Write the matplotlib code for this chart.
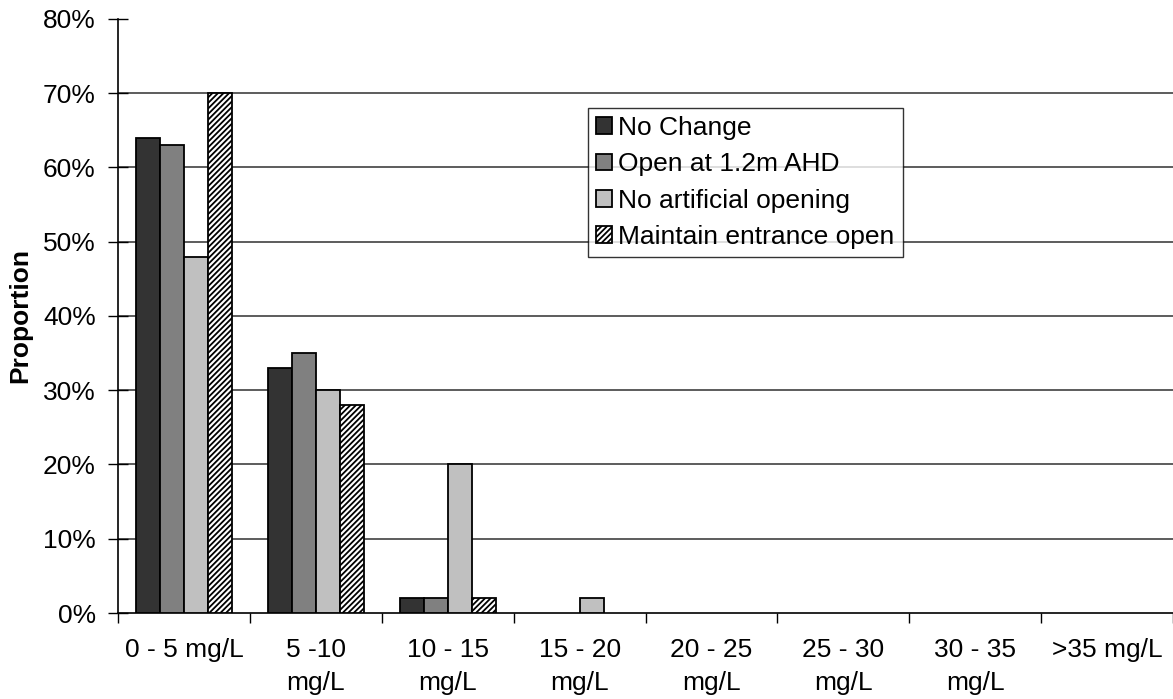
import numpy as np
import matplotlib
matplotlib.use('Agg')
import matplotlib.pyplot as plt
from matplotlib.ticker import PercentFormatter

plt.rcParams['font.family'] = ['Liberation Sans', 'DejaVu Sans']
plt.rcParams['hatch.color'] = '#3a3a3a'
plt.rcParams['hatch.linewidth'] = 1.3

# concentration bins
categories = ['0 - 5 mg/L', '5 -10\nmg/L', '10 - 15\nmg/L', '15 - 20\nmg/L',
              '20 - 25\nmg/L', '25 - 30\nmg/L', '30 - 35\nmg/L', '>35 mg/L']

# proportion of time in each bin (%)
no_change = [64, 33, 2, 0, 0, 0, 0, 0]
open_12m = [63, 35, 2, 0, 0, 0, 0, 0]
no_artificial = [48, 30, 20, 2, 0, 0, 0, 0]
maintain_open = [70, 28, 2, 0, 0, 0, 0, 0]

series = [
    ('No Change', no_change, '#333333', None),
    ('Open at 1.2m AHD', open_12m, '#808080', None),
    ('No artificial opening', no_artificial, '#c0c0c0', None),
    ('Maintain entrance open', maintain_open, 'white', '//////'),
]

fs = 19

fig = plt.figure(figsize=(11.73, 6.99), dpi=100)
ax = fig.add_axes([0.1006, 0.123, 0.8994, 0.850])

x = np.arange(len(categories))
w = 0.182
for i, (name, vals, col, hatch) in enumerate(series):
    v = np.array(vals, dtype=float)
    mask = v > 0
    ax.bar(x[mask] + (i - 1.5) * w, v[mask], width=w, color=col,
           edgecolor='black', linewidth=1.3, hatch=hatch, label=name, zorder=3)

ax.set_xlim(-0.5, len(categories) - 0.5)
ax.set_ylim(0, 80)
ax.set_yticks(np.arange(0, 81, 10))
ax.yaxis.set_major_formatter(PercentFormatter(decimals=0))
# gridlines at 10%..70%
for yv in range(10, 80, 10):
    ax.axhline(yv, color='#303030', linewidth=1.1, zorder=1)

ax.set_xticks(x)
ax.set_xticklabels(categories, fontsize=fs, linespacing=1.45)
ax.set_xticks(np.arange(-0.5, len(categories) - 0.4, 1), minor=True)
ax.tick_params(axis='x', which='major', length=0, pad=18)
ax.tick_params(axis='x', which='minor', length=7, width=1, direction='out')
ax.tick_params(axis='y', labelsize=fs, length=14, width=1, direction='inout', pad=9)

for s in ['top', 'right']:
    ax.spines[s].set_visible(False)
ax.spines['left'].set_linewidth(1.2)
ax.spines['bottom'].set_linewidth(1.2)

ax.set_ylabel('Proportion', fontsize=fs, fontweight='bold')
ax.yaxis.set_label_coords(-0.081, 0.5)

leg = ax.legend(loc='upper left', bbox_to_anchor=(0.4455, 0.850), fontsize=fs,
                frameon=True, fancybox=False, edgecolor='black',
                handlelength=0.6, handleheight=0.6, handletextpad=0.25,
                labelspacing=0.47, borderpad=0.3, borderaxespad=0)
leg.get_frame().set_linewidth(1.0)

fig.savefig('out.png', dpi=100)
